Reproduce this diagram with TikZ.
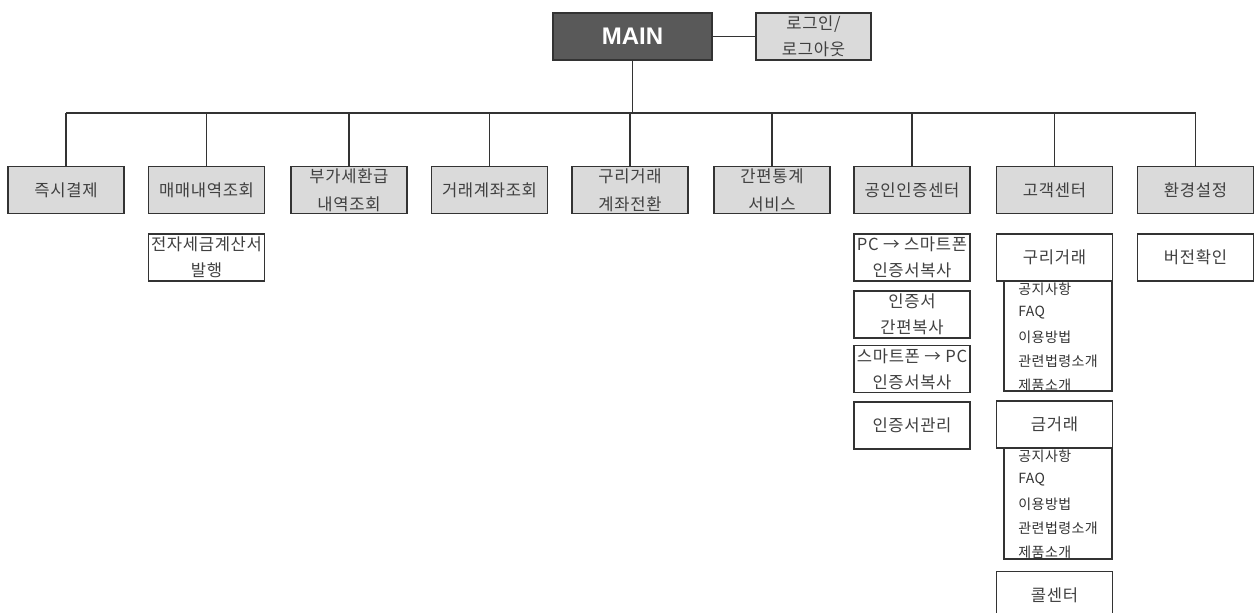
\documentclass[tikz,border=0pt]{standalone}
\usepackage{fontspec}
\newfontfamily\kr[LetterSpace=4]{Noto Sans CJK KR}
\newfontfamily\krl[LetterSpace=3]{Noto Sans CJK KR}
\newfontfamily\mainf{Liberation Sans}
\definecolor{linecol}{HTML}{333333}
\definecolor{txtcol}{HTML}{404040}
\definecolor{boxgray}{HTML}{DADADA}
\definecolor{maingray}{HTML}{595959}
\begin{document}
\begin{tikzpicture}[x=0.5pt,y=-0.5pt,
  box/.style={draw=linecol, line width=0.8pt, minimum width=58pt, minimum height=23.5pt,
    inner sep=0pt, align=center, font=\kr\fontsize{8.3}{12.8}\selectfont, text=txtcol},
  topbox/.style={box, fill=boxgray},
  widebox/.style={topbox, font=\kr\fontsize{8.3}{14}\selectfont},
  subbox/.style={box, fill=white},
  listbox/.style={draw=linecol, line width=0.8pt, minimum width=54pt, inner sep=0pt},
  item/.style={anchor=west, inner sep=0pt, font=\krl\fontsize{7}{8}\selectfont, text=black!80},
  conn/.style={draw=linecol, line width=0.8pt},
  busline/.style={draw=linecol, line width=1.1pt}]
\useasboundingbox (0,0) rectangle (1254,613);
\clip (0,0) rectangle (1254,613);
\coordinate (bus) at (0,113);
% top
\node[box, fill=maingray, text=white, font=\mainf\bfseries\fontsize{12}{14}\selectfont,
  minimum width=79.5pt] (main) at (632.5,36.5) {MAIN};
\node[topbox, minimum width=57.5pt, font=\kr\fontsize{8.3}{13.2}\selectfont] (login) at (813.5,36.5) {로그인/\\로그아웃};
% level 1
\node[topbox] (c1) at (66,190) {즉시결제};
\node[topbox] (c2) at (206.5,190) {매매내역조회};
\node[widebox] (c3) at (349,190) {부가세환급\\내역조회};
\node[topbox] (c4) at (489.5,190) {거래계좌조회};
\node[widebox] (c5) at (630,190) {구리거래\\계좌전환};
\node[widebox] (c6) at (772,190) {간편통계\\서비스};
\node[topbox] (c7) at (912,190) {공인인증센터};
\node[topbox] (c8) at (1054.5,190) {고객센터};
\node[topbox] (c9) at (1195.5,190) {환경설정};
% connectors
\draw[conn] (main.east) -- (main.east -| login.west);
\draw[conn] (main.south) -- (main.south |- bus);
\draw[busline] (c1.north |- bus) -- (c9.north |- bus);
\foreach \n in {c1,c2,c3,c4,c5,c6,c7,c8,c9}
  \draw[conn] (\n.north) -- (\n.north |- bus);
% sub boxes
\node[subbox] (s21) at (206.5,257.5) {전자세금계산서\\발행};
\node[subbox] (s71) at (912,257.5) {PC → 스마트폰\\인증서복사};
\node[subbox] (s72) at (912,314.5) {인증서\\간편복사};
\node[subbox] (s73) at (912,369) {스마트폰 → PC\\인증서복사};
\node[subbox] (s74) at (912,425.5) {인증서관리};
\node[subbox] (s91) at (1195.5,257.5) {버전확인};
% customer center
\node[listbox, minimum height=55pt] (l1) at (1058,336) {};
\node[listbox, minimum height=56pt] (l2) at (1058,503) {};
\node[subbox] (s81) at (1054.5,257.5) {구리거래};
\node[subbox] (s82) at (1054.5,424.5) {금거래};
\node[subbox] (s83) at (1054.5,595) {콜센터};
\begin{scope}
  \clip (l1.south west) rectangle (l1.north east);
  \node[item] (a1) at (1018,289) {공지사항};
  \node[item] (a2) at (1018,313) {FAQ};
  \node[item] (a3) at (1018,337) {이용방법};
  \node[item] (a4) at (1018,361) {관련법령소개};
  \node[item] (a5) at (1018,385) {제품소개};
\end{scope}
\begin{scope}
  \clip (l2.south west) rectangle (l2.north east);
  \node[item] (b1) at (1018,456) {공지사항};
  \node[item] (b2) at (1018,480) {FAQ};
  \node[item] (b3) at (1018,504) {이용방법};
  \node[item] (b4) at (1018,528) {관련법령소개};
  \node[item] (b5) at (1018,552) {제품소개};
\end{scope}
\end{tikzpicture}
\end{document}
